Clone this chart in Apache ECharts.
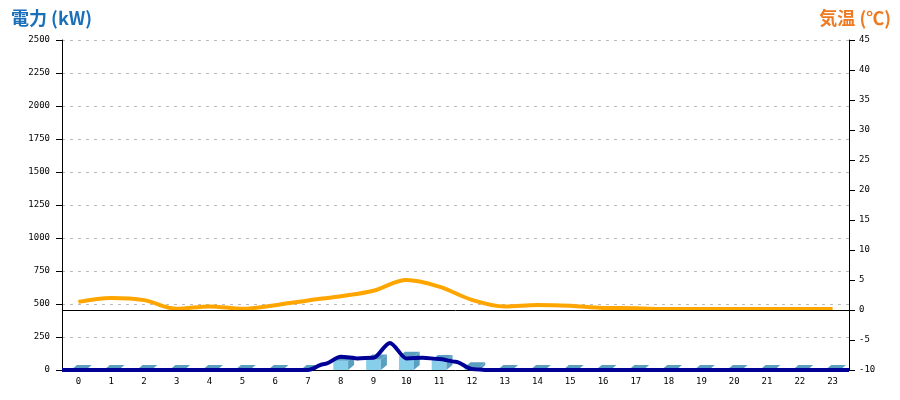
<!DOCTYPE html>
<html>
<head>
<meta charset="utf-8">
<script src="https://cdn.jsdelivr.net/npm/echarts@6/dist/echarts.min.js"></script>
<style>
  html, body { margin: 0; padding: 0; background: #fff; }
  #chart { width: 900px; height: 400px; }
</style>
</head>
<body>
<div id="chart"></div>
<script>
// 時間（横軸）
var hours = ['0','1','2','3','4','5','6','7','8','9','10','11','12','13','14','15','16','17','18','19','20','21','22','23']
// 電力 棒グラフ (kW)
var powerBars = [0,0,0,0,0,0,0,0,70,80,100,75,20,0,0,0,0,0,0,0,0,0,0,0]
// 電力 折れ線 (30分値)
var demandTimes = [-0.5, 6.5, 7, 7.5, 8, 8.5, 9, 9.5, 10, 10.5, 11, 11.5, 12, 12.5, 13, 23.5]
var demandValues = [0, 0, 0, 45, 100, 88, 93, 205, 88, 93, 83, 63, 8, 0, 0, 0]
// 気温 (℃)
var temps = [1.35, 2.0, 1.65, 0.2, 0.6, 0.2, 0.8, 1.6, 2.3, 3.2, 5.0, 3.9, 1.7, 0.6, 0.85, 0.7, 0.35, 0.3, 0.15, 0.15, 0.15, 0.15, 0.15, 0.15]

var labelFont = { color: '#000', fontFamily: 'DejaVu Sans Mono', fontSize: 9, formatter: function (v) { return String(v) } }

// 立体の棒
function renderBar(params, api) {
  var p = api.coord([api.value(0), api.value(1)])
  var p0 = api.coord([api.value(0), 0])
  var w = api.size([1, 0])[0] * 0.45
  var d = 6, h = 5
  var l = p[0] - w / 2, r = p[0] + w / 2, t = p[1], b = p0[1]
  return {
    type: 'group',
    children: [
      { type: 'rect', shape: { x: l, y: t, width: w, height: b - t }, style: { fill: '#87ceea' } },
      { type: 'polygon', shape: { points: [[l, t], [l + d, t - h], [r + d, t - h], [r, t]] }, style: { fill: '#5a9fc0' } },
      { type: 'polygon', shape: { points: [[r, t], [r + d, t - h], [r + d, b - h], [r, b]] }, style: { fill: '#5a9fc0' } }
    ]
  }
}

var chart = echarts.init(document.getElementById('chart'))
chart.setOption({
  animation: false,
  title: [
    { text: '電力 (kW)', left: 6, top: 4,
      textStyle: { color: '#1a70b8', fontSize: 18, fontWeight: 'bold', fontFamily: 'Noto Sans CJK JP' } },
    { text: '気温 (℃)', right: 4, top: 4,
      textStyle: { color: '#ee7a22', fontSize: 18, fontWeight: 'bold', fontFamily: 'Noto Sans CJK JP' } }
  ],
  grid: { left: 62, right: 51, top: 40, bottom: 30, containLabel: false, outerBoundsMode: 'none' },
  xAxis: [{
    type: 'category',
    data: hours,
    axisLine: { onZero: false, lineStyle: { color: '#000', width: 1 } },
    axisTick: { show: false },
    axisLabel: Object.assign({}, labelFont, { margin: 7, formatter: null })
  }, {
    type: 'value',
    min: -0.5,
    max: 23.5,
    show: false
  }],
  yAxis: [{
    type: 'value',
    min: 0,
    max: 2500,
    interval: 250,
    axisLine: { show: true, onZero: false, lineStyle: { color: '#000' } },
    axisTick: { show: true, length: 6, lineStyle: { color: '#000' } },
    axisLabel: Object.assign({ margin: 12 }, labelFont),
    splitLine: { lineStyle: { color: '#bbb', type: [3, 5] } }
  }, {
    type: 'value',
    min: -10,
    max: 45,
    interval: 5,
    position: 'right',
    axisLine: { show: true, onZero: false, lineStyle: { color: '#000' } },
    axisTick: { show: true, length: 6, lineStyle: { color: '#000' } },
    axisLabel: Object.assign({ margin: 10 }, labelFont),
    splitLine: { show: false }
  }],
  series: [{
    type: 'custom',
    name: '電力',
    xAxisIndex: 0,
    yAxisIndex: 0,
    renderItem: renderBar,
    data: powerBars.map(function (v, i) { return [i, v] }),
    z: 2
  }, {
    // 気温 0℃ の線
    type: 'line',
    xAxisIndex: 0,
    yAxisIndex: 1,
    data: [],
    z: 3,
    markLine: {
      silent: true,
      symbol: 'none',
      label: { show: false },
      lineStyle: { color: '#000', type: 'solid', width: 1 },
      data: [{ yAxis: 0 }]
    }
  }, {
    type: 'line',
    name: '電力量',
    xAxisIndex: 1,
    yAxisIndex: 0,
    data: demandTimes.map(function (t, i) { return [t, demandValues[i]] }),
    smooth: 0.3,
    smoothMonotone: 'x',
    showSymbol: false,
    lineStyle: { color: '#000096', width: 4 },
    z: 5
  }, {
    type: 'line',
    name: '気温',
    xAxisIndex: 0,
    yAxisIndex: 1,
    data: temps,
    smooth: 0.35,
    showSymbol: false,
    lineStyle: { color: '#ffa500', width: 4 },
    z: 4
  }]
})
</script>
</body>
</html>
